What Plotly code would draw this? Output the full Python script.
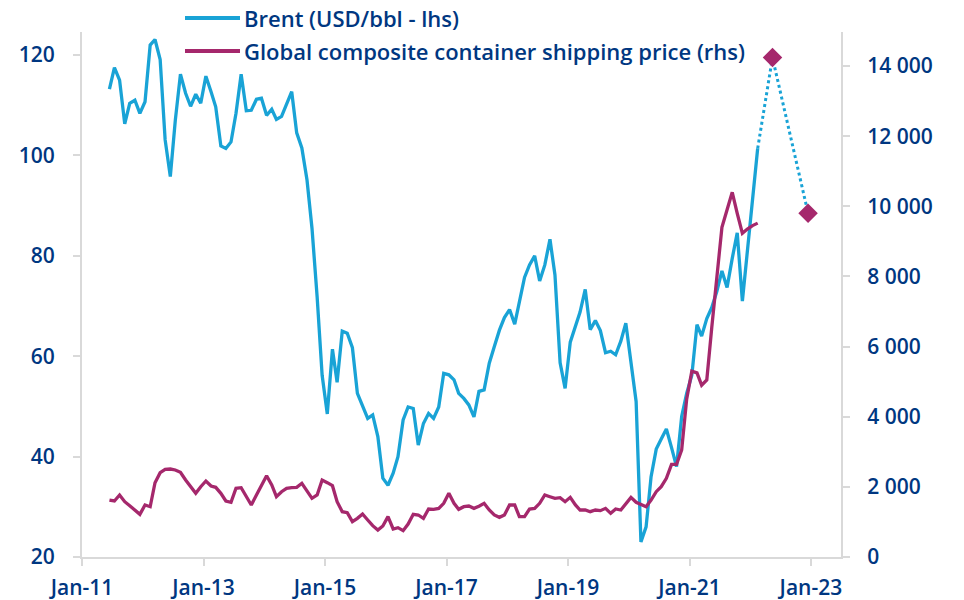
import pandas as pd
import plotly.graph_objects as go

start_month = "2011-06-01"

brent = [
    113.2, 117.5, 115.0, 106.3, 110.4, 111.0, 108.4,
    110.7, 122.0, 123.1, 119.1, 103.1, 95.8, 107.0, 116.2, 112.4, 109.8, 112.2, 110.4,
    115.8, 112.7, 109.7, 101.9, 101.4, 102.7, 108.4, 116.2, 108.9, 109.0, 111.2, 111.4,
    108.0, 109.2, 107.2, 107.8, 110.4, 112.7, 104.5, 101.5, 95.1, 85.5, 71.8, 56.2,
    48.5, 61.4, 54.8, 65.0, 64.6, 61.7, 52.6, 49.9, 47.6, 48.3, 44.0, 35.7,
    34.3, 36.7, 40.0, 47.3, 49.9, 49.6, 42.3, 46.6, 48.6, 47.6, 49.9, 56.6,
    56.3, 55.3, 52.6, 51.6, 50.3, 47.9, 53.0, 53.3, 58.6, 61.9, 65.2, 67.7,
    69.3, 66.4, 71.2, 75.7, 78.2, 80.0, 75.0, 78.2, 83.3, 76.2, 58.7, 53.6,
    62.8, 66.2, 68.8, 73.3, 65.3, 67.1, 65.1, 60.7, 61.0, 60.3, 63.0, 66.6,
    59.0, 51.0, 23.0, 26.0, 36.0, 41.5, 43.5, 45.5, 41.8, 38.0, 48.0, 52.6,
    56.2, 66.3, 64.0, 67.5, 69.7, 73.0, 77.0, 73.7, 79.5, 84.6, 71.0, 81.0,
    91.0, 101.4,
]

container = [
    1625, 1597, 1768, 1577, 1463, 1340, 1217,
    1483, 1434, 2119, 2404, 2501, 2509, 2481, 2415, 2196, 2005, 1816, 2005,
    2167, 2025, 1987, 1816, 1597, 1560, 1959, 1976, 1719, 1483, 1768, 2053,
    2318, 2053, 1719, 1862, 1959, 1976, 1987, 2101, 1862, 1673, 1768, 2196,
    2119, 2034, 1577, 1292, 1263, 1007, 1102, 1226, 1055, 893, 770, 884,
    1150, 798, 836, 751, 941, 1217, 1198, 1102, 1369, 1359, 1387, 1530,
    1816, 1530, 1359, 1434, 1454, 1387, 1450, 1530, 1340, 1198, 1131, 1198,
    1483, 1483, 1150, 1150, 1369, 1387, 1530, 1768, 1719, 1673, 1692, 1577,
    1701, 1483, 1340, 1340, 1292, 1340, 1321, 1387, 1245, 1369, 1340, 1530,
    1701, 1560, 1511, 1434, 1625, 1862, 2005, 2243, 2643, 2643, 3051, 4500,
    5300, 5250, 4900, 5050, 6550, 8000, 9400, 9900, 10400, 9800, 9230, 9350,
    9450, 9520,
]

proj_dates = ["2022-02-15", "2022-05-15", "2022-12-15"]
proj_brent = [101.4, 119.5, 88.5]

legend_labels = ["Brent (USD/bbl - lhs)", "Global composite container shipping price (rhs)"]

BLUE = "#19a3d6"
MAGENTA = "#a5286c"
NAVY = "#003781"
GRID = "#d9d9d9"
FONT = "Open Sans"

dates = pd.date_range(start_month, periods=len(brent), freq="MS") + pd.Timedelta(days=14)

fig = go.Figure()
fig.add_trace(go.Scatter(x=dates, y=brent, mode="lines", line=dict(color=BLUE, width=3.3),
                         name=legend_labels[0], yaxis="y"))
fig.add_trace(go.Scatter(x=dates, y=container, mode="lines", line=dict(color=MAGENTA, width=3.3),
                         name=legend_labels[1], yaxis="y2"))
fig.add_trace(go.Scatter(x=proj_dates, y=proj_brent, mode="lines",
                         line=dict(color=BLUE, width=3, dash="dot"), yaxis="y", showlegend=False))
fig.add_trace(go.Scatter(x=proj_dates[1:], y=proj_brent[1:], mode="markers",
                         marker=dict(symbol="diamond", size=15, color=MAGENTA), yaxis="y",
                         showlegend=False))

# manual legend
W, H = 964 - 82 - 123, 600 - 32 - 43
for i, (lab, col) in enumerate(zip(legend_labels, [BLUE, MAGENTA])):
    py = 18 + 33 * i
    yp = (557 - py) / H
    fig.add_shape(type="line", xref="paper", yref="paper",
                  x0=(185 - 82) / W, x1=(240 - 82) / W, y0=yp, y1=yp,
                  line=dict(color=col, width=4))
    fig.add_annotation(xref="paper", yref="paper", x=(242 - 82) / W, y=yp, text=lab,
                       showarrow=False, xanchor="left", yanchor="middle",
                       font=dict(family=FONT, size=22, color=NAVY, weight=600))

axis_common = dict(showgrid=False, zeroline=False, showline=True, linecolor=GRID, linewidth=2,
                   ticks="outside", ticklen=7, tickcolor=GRID, tickwidth=2, automargin=False,
                   tickfont=dict(family=FONT, size=21, color=NAVY, weight=600))

fig.update_layout(
    width=964, height=600,
    margin=dict(l=82, r=123, t=32, b=43),
    plot_bgcolor="white", paper_bgcolor="white",
    showlegend=False,
    separators=". ",
    xaxis=dict(type="date", range=["2011-01-01", "2023-07-01"], dtick="M24",
               tick0="2011-01-01", tickformat="%b-%y", ticklabelstandoff=4, **axis_common),
    yaxis=dict(range=[20, 124.6], tickvals=[20, 40, 60, 80, 100, 120],
               ticklabelstandoff=14, **axis_common),
    yaxis2=dict(range=[0, 14970], overlaying="y", side="right",
                tickvals=[0, 2000, 4000, 6000, 8000, 10000, 12000, 14000], tickformat=",d",
                ticklabelstandoff=13, **axis_common),
)

fig.write_html("out.html", post_script="document.body.style.margin='0px';",
               config={"displayModeBar": False})
